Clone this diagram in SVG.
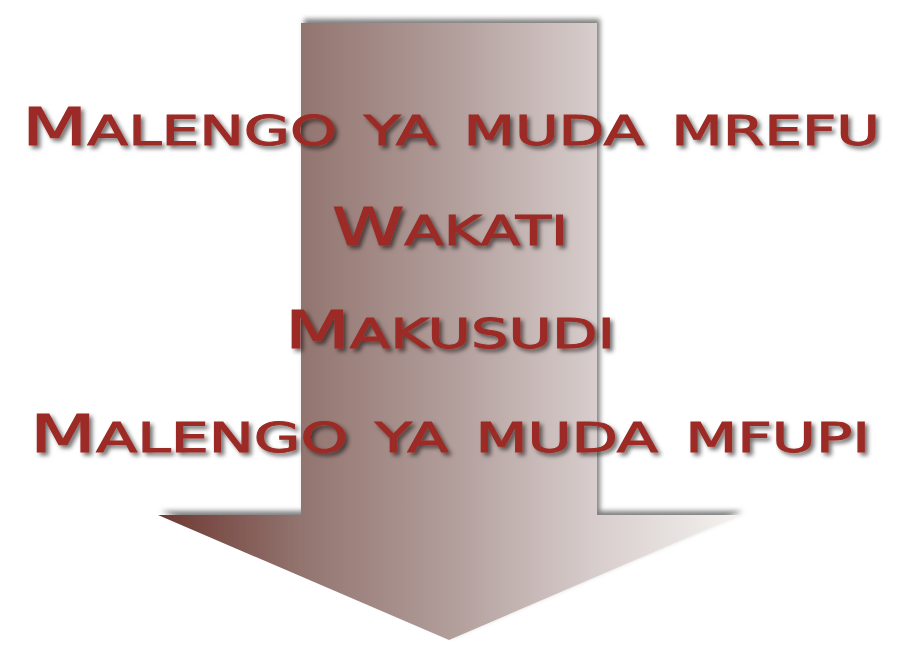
<svg xmlns="http://www.w3.org/2000/svg" width="900" height="659" viewBox="0 0 900 659">
  <defs>
    <linearGradient id="arrowGrad" gradientUnits="userSpaceOnUse" x1="158" y1="0" x2="740" y2="0">
      <stop offset="0" stop-color="#6d3832"/>
      <stop offset="0.25" stop-color="#937570"/>
      <stop offset="0.5" stop-color="#b19d9a"/>
      <stop offset="0.75" stop-color="#d7cdcc"/>
      <stop offset="1" stop-color="#f4f2f0"/>
    </linearGradient>
    <filter id="arrowShadow" x="-10%" y="-10%" width="120%" height="120%">
      <feDropShadow dx="3" dy="-4" stdDeviation="2.5" flood-color="#000" flood-opacity="0.5"/>
    </filter>
    <filter id="textShadow" x="-5%" y="-30%" width="110%" height="160%">
      <feDropShadow dx="3" dy="3" stdDeviation="2" flood-color="#000" flood-opacity="0.55"/>
    </filter>
  </defs>
  <style>
    .lbl { font-family: "DejaVu Sans", "Liberation Sans", sans-serif; font-weight: normal; font-size: 58px; font-variant: small-caps; fill: #9c2b25; stroke: #9c2b25; stroke-width: 1; filter: url(#textShadow); }
    .cap { font-size: 52px; }
  </style>
  <rect width="900" height="659" fill="#ffffff"/>
  <g id="arrow">
    <path d="M301,23 L597,23 L597,515 L740,515 L449,640 L158,515 L301,515 Z" fill="url(#arrowGrad)" filter="url(#arrowShadow)"/>
  </g>
  <g id="connectors"></g>
  <g id="node-long">
    <text class="lbl" x="22" y="145" textLength="858" lengthAdjust="spacingAndGlyphs"><tspan class="cap">M</tspan>alengo ya muda mrefu</text>
  </g>
  <g id="node-time">
    <text class="lbl" x="332" y="245" textLength="236" lengthAdjust="spacingAndGlyphs"><tspan class="cap">W</tspan>akati</text>
  </g>
  <g id="node-purpose">
    <text class="lbl" x="285" y="348" textLength="330" lengthAdjust="spacingAndGlyphs"><tspan class="cap">M</tspan>akusudi</text>
  </g>
  <g id="node-short">
    <text class="lbl" x="30" y="452" textLength="840" lengthAdjust="spacingAndGlyphs"><tspan class="cap">M</tspan>alengo ya muda mfupi</text>
  </g>
</svg>
